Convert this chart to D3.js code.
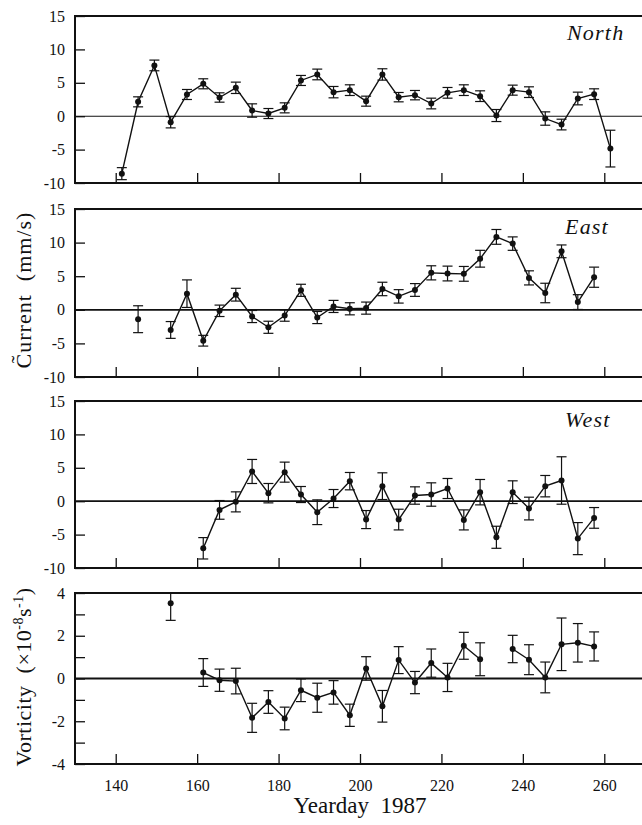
<!DOCTYPE html>
<html>
<head>
<meta charset="utf-8">
<script src="https://cdn.jsdelivr.net/npm/d3@7"></script>
<style>
  html, body { margin: 0; padding: 0; background: #fff; }
  svg { display: block; }
</style>
</head>
<body>
<svg id="chart" width="642" height="825"></svg>
<script>
// Yeardays (centres of 4-day averaging windows)
const yeardays = [141.5, 145.5, 149.5, 153.5, 157.5, 161.5, 165.5, 169.5, 173.5, 177.5,
  181.5, 185.5, 189.5, 193.5, 197.5, 201.5, 205.5, 209.5, 213.5, 217.5,
  221.5, 225.5, 229.5, 233.5, 237.5, 241.5, 245.5, 249.5, 253.5, 257.5, 261.5];

// Current (mm/s) and standard errors; null = no estimate
const northValues = [-8.6, 2.15, 7.6, -0.9, 3.25, 4.85, 2.8, 4.25, 0.85, 0.4,
  1.25, 5.35, 6.25, 3.6, 3.9, 2.25, 6.25, 2.85, 3.15, 1.9,
  3.5, 3.9, 3.0, 0.1, 3.9, 3.6, -0.35, -1.25, 2.65, 3.3, -4.85];
const northErrors = [0.9, 0.75, 0.8, 0.85, 0.75, 0.75, 0.7, 0.85, 1.0, 0.75,
  0.75, 0.75, 0.8, 0.85, 0.8, 0.75, 0.85, 0.7, 0.7, 0.8,
  0.8, 0.8, 0.8, 0.9, 0.75, 0.8, 1.0, 0.8, 0.95, 0.8, 2.75];

const eastValues = [null, -1.4, null, -3.0, 2.4, -4.6, -0.15, 2.25, -1.0, -2.6,
  -0.85, 2.9, -1.15, 0.5, 0.15, 0.25, 3.1, 2.0, 2.95, 5.5,
  5.4, 5.35, 7.6, 10.85, 9.85, 4.75, 2.5, 8.7, 1.15, 4.85, null];
const eastErrors = [null, 2.0, null, 1.25, 2.05, 0.8, 0.85, 0.95, 0.9, 0.9,
  0.85, 0.9, 0.9, 0.9, 0.9, 0.9, 1.0, 1.0, 0.95, 1.05,
  1.1, 1.1, 1.25, 1.1, 1.0, 1.05, 1.45, 0.95, 1.1, 1.5, null];

const westValues = [null, null, null, null, null, -7.05, -1.3, -0.1, 4.45, 1.2,
  4.35, 1.0, -1.65, 0.4, 3.0, -2.75, 2.25, -2.75, 0.85, 1.0,
  1.9, -2.8, 1.35, -5.4, 1.35, -1.1, 2.25, 3.1, -5.6, -2.5, null];
const westErrors = [null, null, null, null, null, 1.6, 1.4, 1.5, 1.8, 1.45,
  1.5, 1.2, 1.85, 1.35, 1.3, 1.35, 2.0, 1.55, 1.3, 1.75,
  1.5, 1.5, 1.9, 1.65, 1.7, 1.7, 1.6, 3.55, 2.4, 1.55, null];

// Vorticity (x 10^-8 s^-1)
const vortValues = [null, null, null, 3.52, null, 0.28, -0.08, -0.12, -1.84, -1.1,
  -1.87, -0.55, -0.9, -0.65, -1.72, 0.47, -1.3, 0.86, -0.19, 0.72,
  0.05, 1.53, 0.9, null, 1.38, 0.88, 0.05, 1.6, 1.67, 1.5, null];
const vortErrors = [null, null, null, 0.8, null, 0.65, 0.52, 0.6, 0.68, 0.53,
  0.53, 0.53, 0.68, 0.55, 0.52, 0.55, 0.74, 0.63, 0.52, 0.66,
  0.66, 0.63, 0.77, null, 0.64, 0.7, 0.72, 1.23, 0.9, 0.68, null];

const xTicks = [140, 160, 180, 200, 220, 240, 260];
const currentTicks = [-10, -5, 0, 5, 10, 15];
const vortTicks = [-4, -3, -2, -1, 0, 1, 2, 3, 4];
const vortTickLabels = ["-4", "", "-2", "", "0", "", "2", "", "4"];

const SERIF = '"Liberation Serif", "Times New Roman", Times, "DejaVu Serif", serif';
const INK = "#111";

const svg = d3.select("#chart");
const left = 75, right = 645;
const x = d3.scaleLinear().domain([130, 270]).range([left, right]);

const panels = [
  { id: "north", label: "North", values: northValues, errors: northErrors,
    top: 16, bottom: 183, domain: [-10, 15], ticks: currentTicks, zeroWidth: 1.1,
    labelPos: [567, 40] },
  { id: "east", label: "East", values: eastValues, errors: eastErrors,
    top: 209, bottom: 377, domain: [-10, 15], ticks: currentTicks, zeroWidth: 1.8,
    labelPos: [565, 234] },
  { id: "west", label: "West", values: westValues, errors: westErrors,
    top: 401, bottom: 568, domain: [-10, 15], ticks: currentTicks, zeroWidth: 1.8,
    labelPos: [565, 427] },
  { id: "vort", label: null, values: vortValues, errors: vortErrors,
    top: 593, bottom: 764, domain: [-4, 4], ticks: vortTicks, tickLabels: vortTickLabels,
    zeroWidth: 1.8, xLabels: true }
];

function styleAxis(a) {
  a.attr("font-family", null).attr("font-size", null);
  a.select(".domain").remove();
  a.selectAll(".tick line").attr("stroke", INK).attr("stroke-width", 1.3);
  a.selectAll("text")
    .style("font-family", SERIF)
    .style("font-size", "16px")
    .attr("fill", INK);
}

panels.forEach(p => {
  const y = d3.scaleLinear().domain(p.domain).range([p.bottom, p.top]);
  const g = svg.append("g").attr("class", "panel-" + p.id);

  g.append("clipPath").attr("id", "clip-" + p.id)
    .append("rect")
    .attr("x", left).attr("y", p.top)
    .attr("width", right - left).attr("height", p.bottom - p.top);

  // y axis with inward ticks
  const yAxis = d3.axisLeft(y)
    .tickValues(p.ticks)
    .tickSize(-10)
    .tickPadding(10)
    .tickFormat((d, i) => p.tickLabels ? p.tickLabels[i] : String(d));
  g.append("g")
    .attr("transform", `translate(${left},0)`)
    .call(yAxis)
    .call(styleAxis);

  // x axis with inward ticks along the bottom
  const xAxis = d3.axisBottom(x)
    .tickValues(xTicks)
    .tickSize(-10)
    .tickPadding(16)
    .tickFormat(d => p.xLabels ? String(d) : "");
  g.append("g")
    .attr("transform", `translate(0,${p.bottom})`)
    .call(xAxis)
    .call(styleAxis);

  // frame: top, left, bottom
  g.append("path")
    .attr("d", `M${right},${p.top}H${left}V${p.bottom}H${right}`)
    .attr("fill", "none").attr("stroke", INK).attr("stroke-width", 2);

  // zero line
  g.append("line")
    .attr("x1", left).attr("x2", right)
    .attr("y1", y(0)).attr("y2", y(0))
    .attr("stroke", INK).attr("stroke-width", p.zeroWidth);

  const pts = yeardays.map((d, i) => ({ day: d, v: p.values[i], e: p.errors[i] }));
  const valid = pts.filter(d => d.v != null);
  const body = g.append("g").attr("clip-path", `url(#clip-${p.id})`);

  // connecting line, broken where there is no estimate
  const line = d3.line()
    .defined(d => d.v != null)
    .x(d => x(d.day)).y(d => y(d.v));
  body.append("path")
    .datum(pts)
    .attr("d", line)
    .attr("fill", "none").attr("stroke", INK).attr("stroke-width", 1.4);

  // error bars
  const cap = 5;
  const eb = body.selectAll(".err").data(valid).enter().append("g").attr("class", "err")
    .attr("stroke", INK).attr("stroke-width", 1.2);
  eb.append("line")
    .attr("x1", d => x(d.day)).attr("x2", d => x(d.day))
    .attr("y1", d => y(d.v + d.e)).attr("y2", d => y(d.v - d.e));
  eb.append("line")
    .attr("x1", d => x(d.day) - cap).attr("x2", d => x(d.day) + cap)
    .attr("y1", d => y(d.v + d.e)).attr("y2", d => y(d.v + d.e));
  eb.append("line")
    .attr("x1", d => x(d.day) - cap).attr("x2", d => x(d.day) + cap)
    .attr("y1", d => y(d.v - d.e)).attr("y2", d => y(d.v - d.e));

  // markers
  body.selectAll("circle").data(valid).enter().append("circle")
    .attr("cx", d => x(d.day)).attr("cy", d => y(d.v))
    .attr("r", 3).attr("fill", INK);

  if (p.label) {
    g.append("text")
      .attr("x", p.labelPos[0]).attr("y", p.labelPos[1])
      .style("font-family", SERIF)
      .style("font-size", "22px").style("font-style", "italic")
      .attr("letter-spacing", 1.2)
      .attr("fill", INK)
      .text(p.label);
  }
});

// axis titles
svg.append("text")
  .attr("transform", "translate(31,290) rotate(-90)")
  .attr("text-anchor", "middle")
  .style("font-family", SERIF).style("font-size", "22px")
  .style("white-space", "pre")
  .attr("letter-spacing", 1)
  .attr("fill", INK)
  .text("C\u0303urrent  (mm/s)");

const vt = svg.append("text")
  .attr("transform", "translate(31,677) rotate(-90)")
  .attr("text-anchor", "middle")
  .style("font-family", SERIF).style("font-size", "22px")
  .style("white-space", "pre")
  .attr("letter-spacing", 0.5)
  .attr("fill", INK);
vt.append("tspan").text("Vorticity  (\u00d710");
vt.append("tspan").attr("dy", -8).style("font-size", "14px").text("-8");
vt.append("tspan").attr("dy", 8).text("s");
vt.append("tspan").attr("dy", -8).style("font-size", "14px").text("-1");
vt.append("tspan").attr("dy", 8).text(")");

svg.append("text")
  .attr("x", 360).attr("y", 813)
  .attr("text-anchor", "middle")
  .style("font-family", SERIF).style("font-size", "23px")
  .style("white-space", "pre")
  .attr("fill", INK)
  .text("Yearday  1987");
</script>
</body>
</html>
